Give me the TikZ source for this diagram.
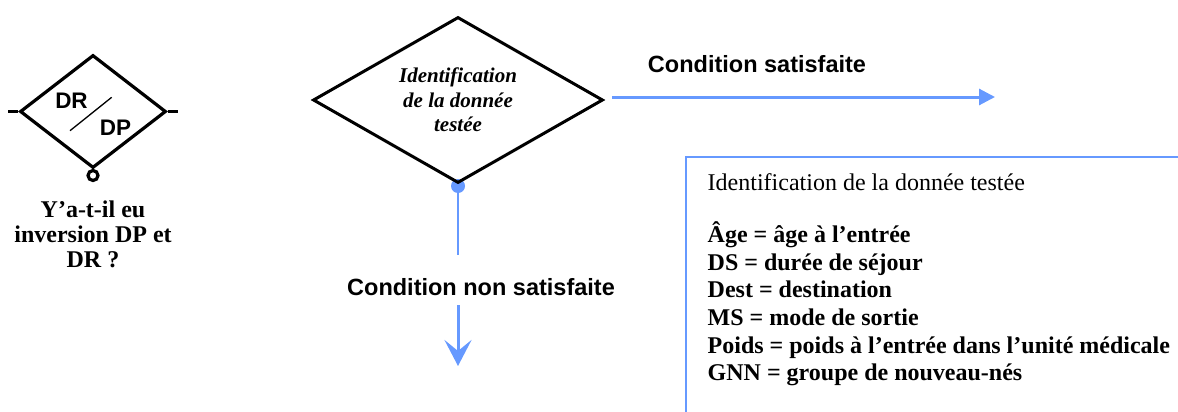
\documentclass[tikz,border=0pt]{standalone}
\usepackage{fontspec}
\setmainfont{Liberation Serif}
\newfontfamily\arialfont{Liberation Sans}
\usetikzlibrary{shapes.geometric,arrows.meta}
\definecolor{flowblue}{RGB}{102,153,255}
\pgfdeclarelayer{bg}
\pgfsetlayers{bg,main}
\begin{document}
\begin{tikzpicture}[x=1pt,y=-1pt,
  dia/.style={draw=black, shape=diamond, inner sep=0pt, line width=3pt},
  blueline/.style={draw=flowblue, line width=3pt},
  sanslabel/.style={font=\arialfont\bfseries\fontsize{23.5}{27}\selectfont, inner sep=0pt, anchor=base},
  drdp/.style={font=\arialfont\bfseries\fontsize{22.5}{25}\selectfont, inner sep=0pt, anchor=base},
]
\useasboundingbox (0,0) rectangle (1178,412);
% small DR/DP symbol
\node[dia, line width=3.2pt, shape aspect=1.29, minimum width=146pt, minimum height=113pt] (sd) at (93,111.5) {};
\draw[line width=3.2pt] (sd.west) -- ++(-10,0);
\draw[line width=3.2pt] (sd.east) -- ++(10,0);
\node[circle, draw, line width=3.2pt, minimum size=10pt, inner sep=0pt] (sdc) at (93,175.5) {};
\node[drdp] (dr) at (71.5,108.3) {DR};
\node[drdp] (dp) at (115.5,135) {DP};
\coordinate (sla) at (70,130.7);
\coordinate (slb) at (111.7,97.3);
\draw[line width=1.3pt] (sla) -- (slb);
\node[font=\bfseries\fontsize{24}{25}\selectfont, align=center, inner sep=0pt, anchor=north] (q) at (93,200.5) {Y’a-t-il eu\\inversion DP et\\DR ?};
% main diamond
\node[dia, shape aspect=1.75, minimum width=290pt, minimum height=166pt, align=center,
      font=\bfseries\itshape\fontsize{21}{24.5}\selectfont] (bd) at (458,100) {Identification\\de la donnée\\testée};
\begin{pgfonlayer}{bg}
\node[circle, fill=flowblue, minimum size=14pt, inner sep=0pt] (dot) at (458,186) {};
\end{pgfonlayer}
\coordinate (nsend) at (458,255);
\draw[flowblue, line width=2.5pt] (dot.center) -- (nsend);
\node[sanslabel] (cns) at (481,295) {Condition non satisfaite};
\coordinate (dstart) at (458,305);
\coordinate (dend) at (458,366);
\draw[blueline, -{Stealth[length=26pt,width=27pt,inset=11pt]}] (dstart) -- (dend);
% satisfied branch
\coordinate (rs) at (612,97);
\coordinate (re) at (995,97);
\draw[blueline, -{Triangle[length=16pt,width=16pt]}] (rs) -- (re);
\node[sanslabel] (cs) at (757,73) {Condition satisfaite};
% legend box
\coordinate (boxbl) at (686,414);
\coordinate (boxtr) at (1180,157);
\draw[flowblue, line width=2pt] (boxbl) |- (boxtr);
\node[anchor=north west, inner sep=0pt, align=left, font=\fontsize{24}{27.7}\selectfont] (legend) at (707.5,173.6)
 {Identification de la donnée testée\\[24pt]
  \textbf{Âge = âge à l’entrée}\\
  \textbf{DS = durée de séjour}\\
  \textbf{Dest = destination}\\
  \textbf{MS = mode de sortie}\\
  \textbf{Poids = poids à l’entrée dans l’unité médicale}\\
  \textbf{GNN = groupe de nouveau-nés}};
\end{tikzpicture}
\end{document}
